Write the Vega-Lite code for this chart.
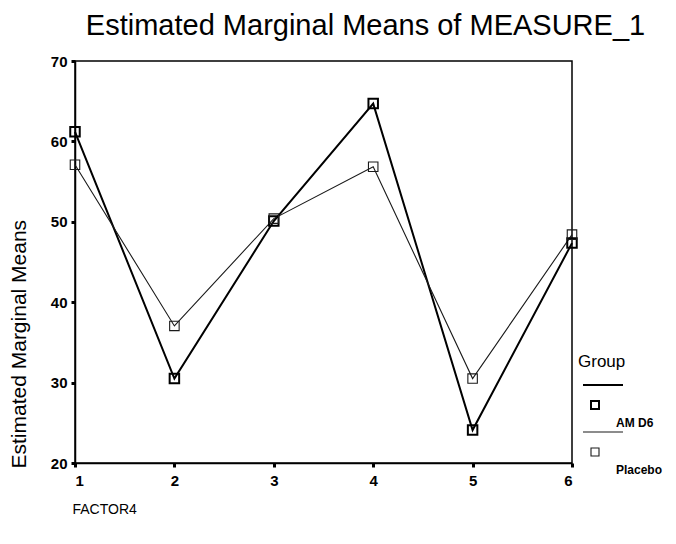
{
  "$schema": "https://vega.github.io/schema/vega-lite/v6.json",
  "width": 497,
  "height": 402,
  "autosize": "none",
  "padding": {"left": 75, "top": 61, "right": 104, "bottom": 81},
  "background": "white",
  "title": {
    "text": "Estimated Marginal Means of MEASURE_1",
    "font": "Liberation Sans",
    "fontSize": 29,
    "fontWeight": "normal",
    "color": "black",
    "anchor": "middle",
    "dx": 42,
    "offset": 13
  },
  "config": {
    "font": "Liberation Sans",
    "view": {"stroke": "black", "strokeWidth": 1.5}
  },
  "data": {
    "values": [
      {"factor": 1, "group": "AM D6", "value": 61.2},
      {"factor": 2, "group": "AM D6", "value": 30.5},
      {"factor": 3, "group": "AM D6", "value": 50.1},
      {"factor": 4, "group": "AM D6", "value": 64.7},
      {"factor": 5, "group": "AM D6", "value": 24.1},
      {"factor": 6, "group": "AM D6", "value": 47.35},
      {"factor": 1, "group": "Placebo", "value": 57.1},
      {"factor": 2, "group": "Placebo", "value": 37.05},
      {"factor": 3, "group": "Placebo", "value": 50.4},
      {"factor": 4, "group": "Placebo", "value": 56.85},
      {"factor": 5, "group": "Placebo", "value": 30.5},
      {"factor": 6, "group": "Placebo", "value": 48.4}
    ]
  },
  "encoding": {
    "x": {
      "field": "factor",
      "type": "quantitative",
      "scale": {"domain": [1, 6], "nice": false, "zero": false},
      "axis": {
        "values": [1, 2, 3, 4, 5, 6],
        "format": "d",
        "grid": false,
        "labelFont": "Liberation Sans",
        "labelFontWeight": "bold",
        "labelFontSize": 15,
        "labelColor": "black",
        "labelPadding": 6,
        "domainColor": "black",
        "domainWidth": 1.5,
        "tickColor": "black",
        "tickSize": 4,
        "tickWidth": 3,
        "title": "FACTOR4",
        "titleFont": "Liberation Sans",
        "titleFontSize": 14,
        "titleFontWeight": "normal",
        "titleColor": "black",
        "titleAnchor": "start",
        "titleAlign": "left",
        "titleX": -3,
        "titlePadding": 14
      }
    },
    "y": {
      "field": "value",
      "type": "quantitative",
      "scale": {"domain": [20, 70], "nice": false, "zero": false},
      "axis": {
        "values": [20, 30, 40, 50, 60, 70],
        "grid": false,
        "labelFont": "Liberation Sans",
        "labelFontWeight": "bold",
        "labelFontSize": 15,
        "labelColor": "black",
        "labelPadding": 4,
        "domainColor": "black",
        "domainWidth": 1.5,
        "tickColor": "black",
        "tickSize": 4,
        "tickWidth": 3,
        "title": "Estimated Marginal Means",
        "titleFont": "Liberation Sans",
        "titleFontSize": 21,
        "titleFontWeight": "normal",
        "titleColor": "black",
        "titleAnchor": "start",
        "titleY": 407,
        "titlePadding": 21
      }
    },
    "color": {
      "field": "group",
      "type": "nominal",
      "scale": {"domain": ["AM D6", "Placebo"], "range": ["black", "#1a1a1a"]},
      "legend": {
        "orient": "none",
        "legendX": 503,
        "legendY": 293,
        "padding": 0,
        "title": "Group",
        "titleFont": "Liberation Sans",
        "titleFontSize": 17,
        "titleFontWeight": "normal",
        "titleColor": "black",
        "titlePadding": 41,
        "labelFont": "Liberation Sans",
        "labelFontSize": 12,
        "labelFontWeight": "bold",
        "labelColor": "black",
        "labelOffset": 16,
        "symbolType": "M-0.6,-3.8H3.4M0.2,-2.2H1V-1.4H0.2Z",
        "symbolSize": 400,
        "symbolFillColor": "transparent",
        "symbolStrokeColor": "black",
        "symbolStrokeWidth": 1.5,
        "rowPadding": 0
      }
    }
  },
  "layer": [
    {
      "mark": {"type": "line"},
      "encoding": {
        "strokeWidth": {
          "field": "group",
          "type": "nominal",
          "scale": {"domain": ["AM D6", "Placebo"], "range": [2, 1.1]},
          "legend": null
        }
      }
    },
    {
      "mark": {"type": "point", "shape": "square", "filled": false, "size": 90, "fill": "white", "fillOpacity": 0},
      "encoding": {
        "strokeWidth": {
          "field": "group",
          "type": "nominal",
          "scale": {"domain": ["AM D6", "Placebo"], "range": [2, 1.1]},
          "legend": null
        }
      }
    }
  ]
}
